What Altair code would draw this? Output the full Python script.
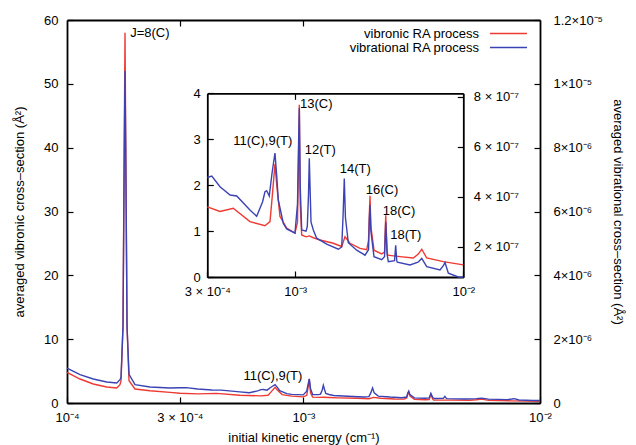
import altair as alt
import pandas as pd

# ---------------- data ----------------
energy_vibronic = [
    1.000e-4, 1.135e-4, 1.292e-4, 1.472e-4, 1.623e-4, 1.675e-4, 1.692e-4, 1.725e-4,
    1.747e-4, 1.759e-4, 1.771e-4, 1.794e-4, 1.829e-4, 1.939e-4, 2.244e-4, 2.726e-4,
    3.00e-4, 3.57e-4, 4.28e-4, 5.38e-4, 6.61e-4, 7.08e-4, 7.28e-4, 7.58e-4, 7.77e-4,
    8.12e-4, 8.90e-4, 9.97e-4, 1.032e-3, 1.046e-3, 1.058e-3, 1.071e-3, 1.093e-3,
    1.160e-3, 1.213e-3, 1.282e-3, 1.405e-3, 1.685e-3, 1.891e-3, 1.978e-3, 2.119e-3,
    2.429e-3, 2.664e-3, 2.730e-3, 2.763e-3, 2.786e-3, 2.820e-3, 2.943e-3, 3.270e-3,
    3.400e-3, 3.456e-3, 3.520e-3, 3.550e-3, 4.200e-3, 5.040e-3, 5.380e-3, 5.660e-3,
    6.060e-3, 7.610e-3, 1.000e-2,
]
sigma_vibronic = [
    4.80, 3.76, 2.98, 2.50, 2.35, 2.87, 3.5, 12.0,
    42.0, 58.0, 42.0, 12.0, 3.5, 2.19, 1.93, 1.66,
    1.53, 1.43, 1.50, 1.21, 1.12, 1.21, 1.70, 2.46, 2.00,
    1.32, 1.07, 0.96, 1.20, 2.50, 3.75, 1.60, 0.92,
    0.88, 0.90, 0.86, 0.81, 0.74, 0.67, 0.88, 0.74,
    0.63, 0.60, 0.80, 1.40, 1.77, 1.10, 0.59, 0.51,
    0.55, 1.35, 0.60, 0.48, 0.45, 0.42, 0.50, 0.61,
    0.42, 0.34, 0.27,
]

energy_vibrational = [
    1.000e-4, 1.135e-4, 1.292e-4, 1.472e-4, 1.623e-4, 1.675e-4, 1.692e-4, 1.725e-4,
    1.747e-4, 1.759e-4, 1.771e-4, 1.794e-4, 1.829e-4, 1.939e-4, 2.244e-4, 2.726e-4,
    3.00e-4, 3.19e-4, 3.57e-4, 4.10e-4, 4.49e-4, 5.38e-4, 5.90e-4, 6.40e-4, 6.61e-4,
    6.77e-4, 7.01e-4, 7.28e-4, 7.58e-4, 7.77e-4, 7.93e-4, 8.50e-4, 8.90e-4, 9.97e-4,
    1.032e-3, 1.046e-3, 1.058e-3, 1.071e-3, 1.093e-3, 1.160e-3, 1.180e-3, 1.200e-3,
    1.213e-3, 1.229e-3, 1.242e-3, 1.282e-3, 1.342e-3, 1.540e-3, 1.805e-3, 1.891e-3,
    1.925e-3, 1.959e-3, 1.990e-3, 2.070e-3, 2.322e-3, 2.603e-3, 2.730e-3, 2.763e-3,
    2.786e-3, 2.820e-3, 2.943e-3, 3.270e-3, 3.400e-3, 3.456e-3, 3.520e-3, 3.580e-3,
    3.900e-3, 3.960e-3, 4.020e-3, 4.050e-3, 4.820e-3, 5.380e-3, 5.660e-3, 6.060e-3,
    7.270e-3, 7.610e-3, 7.780e-3, 8.150e-3, 9.340e-3, 1.000e-2,
]
# in units of 1e-7 Å^2
sigma_vibrational_e7 = [
    10.96, 8.86, 7.52, 6.58, 6.26, 7.3, 8.0, 24.0,
    80.0, 104.0, 80.0, 24.0, 9.0, 5.74, 5.00, 4.70,
    4.77, 4.83, 4.40, 4.07, 4.03, 3.47, 3.22, 3.80, 4.20,
    4.24, 4.03, 4.94, 5.75, 4.81, 3.87, 2.93, 2.71, 2.54,
    3.72, 5.93, 7.55, 4.46, 2.67, 2.62, 2.80, 4.09,
    5.54, 4.09, 2.98, 2.67, 2.34, 2.10, 1.90, 1.99,
    3.17, 4.73, 3.17, 2.16, 1.86, 1.66, 1.88, 3.17,
    3.67, 2.62, 1.60, 1.48, 1.60, 3.00, 1.70, 1.40,
    1.44, 2.06, 1.44, 1.38, 1.27, 1.38, 1.53, 1.20,
    1.07, 1.24, 1.37, 0.94, 0.79, 0.78,
]

series_names = ["vibronic RA process", "vibrational RA process"]
series_colors = ["#ee3a32", "#3b43b4"]

main_label_text = ["J=8(C)", "11(C),9(T)"]
main_label_energy = [1.85e-4, 5.57e-4]
main_label_sigma = [58.0, 4.3]

inset_label_text = ["11(C),9(T)", "13(C)", "12(T)", "14(T)", "16(C)", "18(C)", "18(T)"]
inset_label_energy = [4.28e-4, 1.068e-3, 1.14e-3, 1.84e-3, 2.63e-3, 3.32e-3, 3.68e-3]
inset_label_sigma = [2.96, 3.76, 2.76, 2.36, 1.89, 1.45, 0.93]

main_x_ticks = [1e-4, 3e-4, 1e-3, 1e-2]
main_x_labels = ["10⁻⁴", "3 × 10⁻⁴", "10⁻³", "10⁻²"]
main_y_ticks = [0, 10, 20, 30, 40, 50, 60]
main_y2_ticks = [0, 2e-6, 4e-6, 6e-6, 8e-6, 1e-5, 1.2e-5]
main_y2_labels = ["0", "2×10⁻⁶", "4×10⁻⁶", "6×10⁻⁶", "8×10⁻⁶", "1×10⁻⁵", "1.2×10⁻⁵"]
inset_x_ticks = [3e-4, 1e-3, 1e-2]
inset_x_labels = ["3 × 10⁻⁴", "10⁻³", "10⁻²"]
inset_y_ticks = [0, 1, 2, 3, 4]
inset_y2_ticks = [2e-7, 4e-7, 6e-7, 8e-7]
inset_y2_labels = ["2 × 10⁻⁷", "4 × 10⁻⁷", "6 × 10⁻⁷", "8 × 10⁻⁷"]

# ---------------- tables ----------------
red_df = pd.DataFrame({"energy": energy_vibronic, "sigma": sigma_vibronic,
                       "series": series_names[0]})
blue_df = pd.DataFrame({"energy": energy_vibrational,
                        "sigma": [v * 1e-7 for v in sigma_vibrational_e7],
                        "series": series_names[1]})
main_lab_df = pd.DataFrame({"label": main_label_text, "energy": main_label_energy,
                            "sigma": main_label_sigma})
inset_lab_df = pd.DataFrame({"label": inset_label_text, "energy": inset_label_energy,
                             "sigma": inset_label_sigma})


def label_expr(values, labels, log=False):
    expr = "'" + labels[-1] + "'"
    for i in range(len(values) - 2, -1, -1):
        if log:
            thr = (values[i] * values[i + 1]) ** 0.5
        else:
            thr = (values[i] + values[i + 1]) / 2
        expr = f"datum.value < {thr!r} ? '{labels[i]}' : ({expr})"
    return expr


FONT = "Liberation Sans"
TICK = {"expr": "-6"}
DW = 1.8
LW = 1.4
W, H = 473, 383
INSET_X = [140.3, 396.3]
INSET_Y = [257.3, 73.3]


def main_xscale():
    return alt.Scale(type="log", domain=[1e-4, 1e-2], nice=False)


def main_yscale():
    return alt.Scale(domain=[0, 60], nice=False)


def inset_xscale():
    return alt.Scale(type="log", domain=[3e-4, 1e-2], range=INSET_X, nice=False)


def inset_yscale():
    return alt.Scale(domain=[0, 4], range=INSET_Y, nice=False)


def legend_for(y):
    return alt.Legend(title=None, orient="none", legendX=422, legendY=y,
                      symbolType="stroke", symbolSize=1369, symbolStrokeWidth=1.5,
                      labelAlign="right", labelOffset={"expr": "-49"}, labelFontSize=13,
                      labelFont=FONT, labelColor="black")


main_red = alt.Chart(red_df).mark_line(strokeWidth=LW).encode(
    x=alt.X("energy:Q", scale=main_xscale(),
            axis=alt.Axis(orient="bottom", values=main_x_ticks,
                          labelExpr=label_expr(main_x_ticks, main_x_labels, log=True),
                          title="initial kinetic energy (cm⁻¹)", domain=True, domainWidth=DW,
                          tickSize=TICK, labelPadding=14, labelFlush=False,
                          labelOverlap=False, titlePadding=7)),
    y=alt.Y("sigma:Q", scale=main_yscale(),
            axis=alt.Axis(orient="left", values=main_y_ticks,
                          title="averaged vibronic cross–section (Å²)", domain=True,
                          domainWidth=DW, tickSize=TICK, labelPadding=15,
                          labelOverlap=False, titlePadding=17)),
    color=alt.Color("series:N",
                    scale=alt.Scale(domain=[series_names[0]], range=[series_colors[0]]),
                    legend=legend_for(-6)),
)
main_text = alt.Chart(main_lab_df).mark_text(align="left", baseline="middle",
                                             font=FONT, fontSize=13, color="black").encode(
    x=alt.X("energy:Q", scale=main_xscale(), axis=None),
    y=alt.Y("sigma:Q", scale=main_yscale(), axis=None),
    text="label:N",
)

main_blue = alt.Chart(blue_df).mark_line(strokeWidth=LW).encode(
    x=alt.X("energy:Q", scale=main_xscale(),
            axis=alt.Axis(orient="top", values=[3e-4, 1e-3], labels=False, title=None,
                          domain=True, domainWidth=DW, tickSize=TICK)),
    y=alt.Y("sigma:Q", scale=alt.Scale(domain=[0, 1.2e-5], nice=False),
            axis=alt.Axis(orient="right", values=main_y2_ticks,
                          labelExpr=label_expr(main_y2_ticks, main_y2_labels),
                          title="averaged vibrational cross–section (Å²)", domain=True,
                          domainWidth=DW, tickSize=TICK, labelPadding=19,
                          labelOverlap=False, titlePadding=8)),
    color=alt.Color("series:N",
                    scale=alt.Scale(domain=[series_names[1]], range=[series_colors[1]]),
                    legend=legend_for(8)),
)

inset_red = alt.Chart(red_df).mark_line(strokeWidth=LW, color=series_colors[0]).transform_filter(
    "datum.energy >= 3e-4"
).encode(
    x=alt.X("energy:Q", scale=inset_xscale(),
            axis=alt.Axis(orient="bottom", offset=-126, values=inset_x_ticks,
                          labelExpr=label_expr(inset_x_ticks, inset_x_labels, log=True),
                          title=None, domain=True, domainWidth=DW, tickSize=TICK,
                          labelPadding=14, labelFlush=False, labelOverlap=False)),
    y=alt.Y("sigma:Q", scale=inset_yscale(),
            axis=alt.Axis(orient="left", offset=-140.3, values=inset_y_ticks, title=None,
                          domain=True, domainWidth=DW, tickSize=TICK, labelPadding=13,
                          labelOverlap=False)),
)
inset_text = alt.Chart(inset_lab_df).mark_text(align="left", baseline="middle",
                                               font=FONT, fontSize=13, color="black").encode(
    x=alt.X("energy:Q", scale=inset_xscale(), axis=None),
    y=alt.Y("sigma:Q", scale=inset_yscale(), axis=None),
    text="label:N",
)

inset_blue = alt.Chart(blue_df).mark_line(strokeWidth=LW, color=series_colors[1]).transform_filter(
    "datum.energy >= 3e-4"
).encode(
    x=alt.X("energy:Q", scale=inset_xscale(),
            axis=alt.Axis(orient="top", offset=-73.3, values=[1e-3], labels=False,
                          title=None, domain=True, domainWidth=DW, tickSize=TICK)),
    y=alt.Y("sigma:Q", scale=alt.Scale(domain=[0.776e-7, 8.14e-7], range=INSET_Y, nice=False),
            axis=alt.Axis(orient="right", offset=-76.7, values=inset_y2_ticks,
                          labelExpr=label_expr(inset_y2_ticks, inset_y2_labels),
                          title=None, domain=True, domainWidth=DW, tickSize=TICK,
                          labelPadding=16, labelOverlap=False)),
)

chart = alt.layer(main_red, main_text, main_blue, inset_red, inset_text, inset_blue).resolve_scale(
    x="independent", y="independent", color="independent"
).properties(
    width=W, height=H,
    autosize=alt.AutoSizeParams(type="none"),
    padding={"left": 59, "top": 12, "right": 88, "bottom": 46},
    background="white",
).configure_view(
    strokeWidth=0
).configure_axis(
    grid=False, labelFont=FONT, titleFont=FONT, labelFontSize=13, titleFontSize=13,
    labelColor="black", titleColor="black", titleFontWeight="normal",
    tickColor="black", tickWidth=1.2, domainColor="black",
)

chart.save("out.html", embed_options={"renderer": "svg", "actions": False})
